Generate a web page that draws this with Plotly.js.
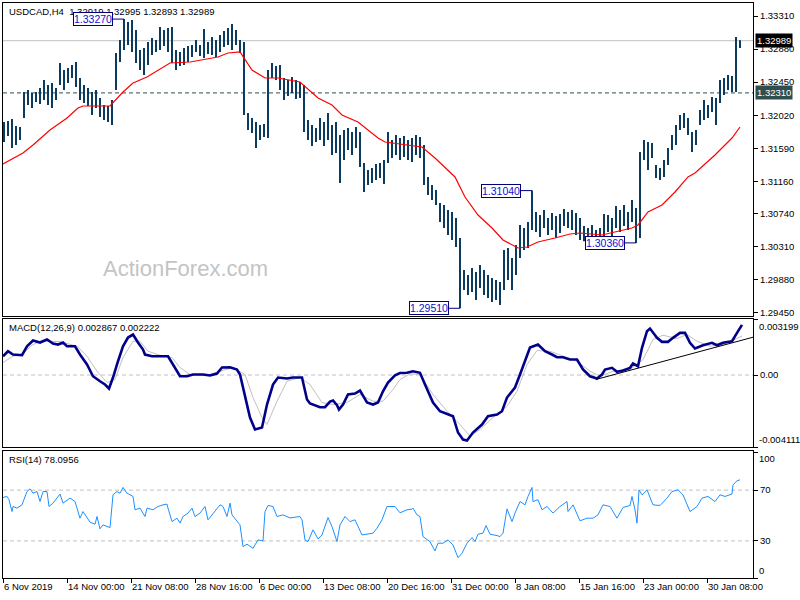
<!DOCTYPE html>
<html><head><meta charset="utf-8">
<script src="https://cdn.plot.ly/plotly-3.0.1.min.js"></script>
<style>html,body{margin:0;padding:0;background:#fff;}#chart{width:800px;height:600px;}</style>
</head><body><div id="chart"></div>
<script>
// ---------- data ----------
const symbol = "USDCAD,H4";
const lastOHLC = [1.32919, 1.32995, 1.32893, 1.32989];
const currentPrice = 1.32989;
const levelPrice = 1.32310;

// price bars (two H4 bars per entry), highs and lows
const highs = [
1.31932,1.31945,1.31971,1.31880,1.31867,1.32322,1.32348,1.32309,1.32322,1.32374,
1.32478,1.32413,1.32439,1.32374,1.32699,1.32608,1.32634,1.32673,1.32712,1.32504,
1.32413,1.32374,1.32322,1.32348,1.32244,1.32153,1.32140,1.32218,1.32829,1.32998,
1.33270,1.33232,1.33258,1.33128,1.32868,1.32894,1.32972,1.33024,1.32998,1.33167,
1.33128,1.33154,1.33167,1.32868,1.32842,1.32894,1.32920,1.32933,1.32998,1.32933,
1.33141,1.32972,1.33037,1.32998,1.33063,1.33115,1.33154,1.33206,1.33128,1.32998,
1.32972,1.32049,1.31984,1.31932,1.31893,1.31906,1.32608,1.32699,1.32660,1.32673,
1.32504,1.32478,1.32517,1.32478,1.32452,1.32413,1.31958,1.31893,1.31854,1.31984,
1.31932,1.32049,1.31893,1.31932,1.31763,1.31828,1.31854,1.31802,1.31867,1.31802,
1.31399,1.31308,1.31334,1.31386,1.31399,1.31438,1.31802,1.31698,1.31763,1.31724,
1.31750,1.31698,1.31724,1.31763,1.31737,1.31633,1.31217,1.31113,1.31048,1.30879,
1.30853,1.30788,1.30762,1.30684,1.30424,1.30008,1.29943,1.30034,1.29982,1.30073,
1.30008,1.29943,1.29904,1.29878,1.29852,1.30268,1.30294,1.30164,1.30333,1.30593,
1.30554,1.30632,1.31040,1.30762,1.30723,1.30788,1.30684,1.30749,1.30710,1.30736,
1.30801,1.30762,1.30788,1.30749,1.30684,1.30580,1.30554,1.30593,1.30528,1.30554,
1.30736,1.30723,1.30684,1.30840,1.30788,1.30853,1.30762,1.30918,1.30814,1.31542,
1.31698,1.31672,1.31659,1.31373,1.31334,1.31438,1.31594,1.31763,1.31893,1.32023,
1.32049,1.31984,1.31802,1.31828,1.32088,1.32218,1.32153,1.32257,1.32244,1.32478,
1.32504,1.32543,1.32530,1.33037,1.32995];
const lows = [
1.31672,1.31750,1.31594,1.31633,1.31698,1.31984,1.32153,1.32114,1.32192,1.32166,
1.32218,1.32153,1.32114,1.32218,1.32413,1.32348,1.32439,1.32504,1.32387,1.32218,
1.32179,1.32140,1.32023,1.32114,1.31997,1.31958,1.31932,1.31893,1.32348,1.32712,
1.32868,1.32933,1.32842,1.32699,1.32608,1.32543,1.32673,1.32803,1.32842,1.32868,
1.32920,1.32842,1.32699,1.32608,1.32660,1.32673,1.32712,1.32777,1.32842,1.32790,
1.32764,1.32816,1.32803,1.32777,1.32842,1.32907,1.32933,1.32868,1.32933,1.32829,
1.32023,1.31828,1.31789,1.31594,1.31698,1.31737,1.31724,1.32504,1.32478,1.32348,
1.32218,1.32270,1.32309,1.32231,1.32244,1.31802,1.31698,1.31620,1.31672,1.31698,
1.31620,1.31698,1.31503,1.31529,1.31139,1.31438,1.31568,1.31503,1.31594,1.31347,
1.31022,1.31113,1.31139,1.31178,1.31204,1.31126,1.31399,1.31464,1.31503,1.31438,
1.31477,1.31438,1.31412,1.31503,1.31464,1.31113,1.30983,1.30918,1.30853,1.30632,
1.30554,1.30463,1.30398,1.30307,1.29510,1.29748,1.29683,1.29722,1.29618,1.29774,
1.29683,1.29644,1.29592,1.29618,1.29553,1.29748,1.29878,1.29748,1.29943,1.30164,
1.30268,1.30294,1.30528,1.30502,1.30437,1.30554,1.30463,1.30528,1.30424,1.30489,
1.30580,1.30554,1.30528,1.30463,1.30398,1.30380,1.30398,1.30424,1.30375,1.30385,
1.30450,1.30502,1.30424,1.30554,1.30502,1.30580,1.30528,1.30632,1.30360,1.30424,
1.31438,1.31308,1.31464,1.31204,1.31178,1.31217,1.31373,1.31568,1.31633,1.31828,
1.31854,1.31763,1.31542,1.31633,1.31893,1.31958,1.31984,1.32062,1.31893,1.32179,
1.32283,1.32348,1.32322,1.32322,1.32893];

// moving average (red), x = H4 bar number
const maX = [0,10,15,23.5,32,37.5,40,53.5,60,65,72,80,83.5,93.5,107.5,112.5,118.5,124.5,131,137.5,148.5,157.5,164.5,169.5,177.5,187.5,191,209.5,216,226,231,237.5,244.5,250,257.5,262,267.5,276,283.5,288.5,299.5,314.5,317.5,322.5,329.5,336,342.5,346,356,364.5,368.5];
const maY = [1.31386,1.31529,1.31633,1.31828,1.31984,1.32114,1.32140,1.32140,1.32322,1.32439,1.32517,1.32647,1.32699,1.32712,1.32777,1.32829,1.32842,1.32608,1.32504,1.32504,1.32452,1.32244,1.32153,1.32023,1.31932,1.31724,1.31672,1.31607,1.31464,1.31217,1.30957,1.30723,1.30554,1.30398,1.30294,1.30307,1.30372,1.30424,1.30476,1.30489,1.30463,1.30554,1.30593,1.30762,1.30853,1.31022,1.31217,1.31269,1.31503,1.31724,1.31867];

// MACD(12,26,9)
const macdX = [0,2.5,5,9.5,12,15,18.5,22,25,27.5,30,32,36,38.5,42,45,48.5,51,53,55,57.5,60,62.5,65,67.5,70,71,74.5,77.5,82.5,85,88.5,92,95,100,103.5,107,109.5,113.5,117,118.5,121,123.5,126,129.5,132,135,137.5,142,145,149.5,152,153.5,158.5,161,163.5,165,167,168,170,172.5,176,178.5,182,185,187.5,190,192.5,196,198.5,202,205,208.5,211,215,218.5,223.5,225,227.5,230,232,235,239.5,242.5,247,249.5,252,253.5,256,258.5,261,263.5,267.5,271,274.5,277,280,283.5,287,290,293.5,297,299.5,301,304.5,307,310,313.5,315,317.5,319.5,322,323.5,327,329.5,332.5,335,338.5,341,343.5,346,350,354.5,357,360,364.5,367,369.5];
const macdY = [0.001073,0.001359,0.001171,0.001131,0.001644,0.001970,0.001856,0.002027,0.001799,0.001742,
0.001856,0.001644,0.001644,0.001171,0.000600,-0.000069,-0.000354,-0.000542,-0.000771,-0.000143,
0.000788,0.001644,0.002141,0.002313,0.001856,0.001456,0.001171,0.001073,0.001073,0.001073,
0.000600,-0.000069,-0.000069,0.000029,0.000029,-0.000029,0.000086,0.000428,0.000445,0.000314,
0.000029,-0.001285,-0.002427,-0.003112,-0.002998,-0.001684,-0.000542,-0.000143,-0.000200,-0.000143,
-0.000143,-0.001399,-0.001627,-0.001839,-0.001839,-0.001513,-0.001456,-0.001724,-0.001970,-0.001684,
-0.001113,-0.001056,-0.000885,-0.001570,-0.001684,-0.001570,-0.000925,-0.000428,-0.000011,0.000114,
0.000126,0.000217,0.000126,-0.000542,-0.001570,-0.002067,-0.002255,-0.002353,-0.003283,-0.003683,
-0.003740,-0.003283,-0.002826,-0.002353,-0.002255,-0.002067,-0.001285,-0.001056,-0.000714,0.000029,
0.000788,0.001570,0.001742,0.001359,0.001171,0.001016,0.001016,0.000885,0.000885,0.000314,
-0.000069,-0.000200,0.000029,0.000314,0.000411,0.000183,0.000257,0.000411,0.000657,0.000502,
0.001553,0.002501,0.002655,0.002124,0.001896,0.001896,0.002124,0.002410,0.002410,0.001839,
0.001513,0.001702,0.001839,0.001702,0.001839,0.001930,0.002410,0.002867];
const signalX = [0,5,10,14.5,18.5,28.5,37,42,47,52,56,60,65,68.5,72.5,78.5,84.5,88.5,93.5,102,108.5,115,121,125,129.5,132,137,142,148.5,153.5,159.5,165,172,178.5,185,190,195,198.5,203.5,208.5,215,222,228.5,233.5,238.5,245,252,257,262,267,273.5,280,287,293.5,298.5,305,313.5,320,325,330,337,342,347,353.5,360,369.5];
const signalY = [0.000714,0.001073,0.001228,0.001702,0.001930,0.001913,0.001644,0.001073,0.000217,-0.000428,
-0.000257,0.000999,0.001930,0.001930,0.001359,0.001131,0.000999,0.000428,0.000029,-0.000011,
0.000217,0.000428,0.000029,-0.001285,-0.002427,-0.002826,-0.001496,-0.000354,-0.000143,-0.000542,
-0.001570,-0.001684,-0.001570,-0.001113,-0.001496,-0.001496,-0.000828,-0.000257,0.000069,0.000029,
-0.001113,-0.002067,-0.002826,-0.003495,-0.003112,-0.002427,-0.001782,-0.000925,0.000600,0.001399,
0.001359,0.001073,0.000788,0.000217,-0.000069,0.000217,0.000314,0.000885,0.002027,0.002273,
0.002084,0.002313,0.001930,0.001644,0.001742,0.002222];
const macdRange = [-0.004111, 0.003199];
const trendX = [296.4, 375];
const trendY = [-0.000257, 0.00216];

// RSI(14)
const rsiX = [0,2,3,4.5,5,7,9.5,11,12,13.5,15,17,18.5,20,22,23,25,28.5,30,33.5,36,38.5,40,43.5,46,47,48.5,50,52,53.5,55,57,58.5,60,62,63.5,65,66,68.5,71,72,75,77.5,80,82,82.5,84.5,87,88.5,90,92.5,94.5,96,98.5,101,102.5,105,108.5,110,112,113.5,114.5,118.5,120,122,125,127.5,130,131,132.5,135,137,140,143.5,148.5,149.5,151,152.5,155,157.5,159.5,162.5,164.5,167,168.5,171,173.5,176,179.5,182,185,187,189.5,192,196,198.5,202,204.5,205,207,208.5,210,213.5,216,217.5,220,222.5,225,227.5,229.5,232,234.5,236,237.5,240,241.5,243.5,247,248.5,250,252,254.5,256,258.5,261,262.5,264.5,265,267.5,269.5,272,275,278.5,282,282.5,285,287,288.5,292,295,297.5,300,303.5,307,310,313.5,314.5,316,317,318,319.5,322,325,328.5,332,334.5,337.5,340,343.5,347,349.5,352.5,356,358.5,361,364.5,365,367,368.5];
const rsiY = [64.2,65.0,62.4,53.1,57.1,55.8,58.4,65.0,68.9,71.0,67.6,68.9,61.0,68.9,68.9,57.1,59.7,66.9,59.7,63.7,61.0,47.9,53.1,44.8,43.2,49.2,39.5,42.6,41.3,40.5,66.3,68.9,67.6,72.1,67.6,66.3,65.0,54.5,55.8,49.2,55.8,54.5,57.1,58.4,59.0,55.8,45.2,47.9,44.0,49.2,51.9,55.8,49.2,51.9,57.1,46.6,51.9,58.4,57.1,49.2,59.7,50.5,42.6,25.5,27.4,24.2,30.8,30.0,53.1,57.9,57.1,49.2,50.5,48.1,49.2,46.6,30.8,29.4,38.7,31.6,34.7,48.4,41.3,29.4,42.6,49.2,45.2,46.6,34.7,35.3,36.1,40.0,46.6,57.1,57.1,52.1,54.5,55.0,55.8,50.5,49.2,33.4,29.4,22.1,28.2,28.2,30.8,26.8,16.8,20.3,28.2,32.6,29.4,35.3,36.1,42.1,35.3,34.2,33.4,36.1,55.2,45.2,51.9,61.0,58.4,65.0,72.1,61.0,62.4,54.5,57.1,51.9,57.1,61.0,53.1,58.4,51.9,45.8,47.9,47.9,50.5,58.4,57.1,47.9,56.3,57.9,65.0,54.5,44.0,70.2,66.3,70.2,58.4,57.9,63.7,68.9,70.2,66.3,53.1,57.1,63.7,65.0,61.0,66.3,65.0,66.9,74.2,77.3,78.0956];
const rsiLevels = [70, 30];

// axis ticks
const tickIdx = [0,32,64,96,128,160,192,224,256,288,320,352];
const tickLabels = ["6 Nov 2019","14 Nov 00:00","21 Nov 08:00","28 Nov 16:00","6 Dec 00:00","13 Dec 08:00","20 Dec 16:00","31 Dec 00:00","8 Jan 08:00","15 Jan 16:00","23 Jan 00:00","30 Jan 08:00"];
const priceTicks = [1.33310,1.32880,1.32450,1.32020,1.31590,1.31160,1.30740,1.30310,1.29880,1.29450];

// swing-point labels (entry numbers in highs/lows)
const swingEntries = [30, 132, 114, 158];
const swingKinds = ["high", "high", "low", "low"];

// ---------- drawing ----------
const FONT = "Liberation Sans, Arial, sans-serif";
const barX = highs.map((_, k) => 2 * k + 0.5);
const segX = [], segY = [];
for (let k = 0; k < highs.length; k++) {
  segX.push(barX[k], barX[k], null);
  segY.push(lows[k], highs[k], null);
}

const traces = [
  {type:'scatter', mode:'lines', x:segX, y:segY, xaxis:'x', yaxis:'y',
   line:{color:'#0b3b5e', width:2}, connectgaps:false, hoverinfo:'skip'},
  {type:'scatter', mode:'lines', x:maX, y:maY, xaxis:'x', yaxis:'y',
   line:{color:'#ff0000', width:1.2}},
  {type:'scatter', mode:'lines', x:signalX, y:signalY, xaxis:'x2', yaxis:'y2',
   line:{color:'#c0c0c0', width:1}},
  {type:'scatter', mode:'lines', x:macdX, y:macdY, xaxis:'x2', yaxis:'y2',
   line:{color:'#00008b', width:2.6}},
  {type:'scatter', mode:'lines', x:trendX, y:trendY, xaxis:'x2', yaxis:'y2',
   line:{color:'#000000', width:1}},
  {type:'scatter', mode:'lines', x:rsiX, y:rsiY, xaxis:'x3', yaxis:'y3',
   line:{color:'#1e90ff', width:1}}
];

const xRange = [0, 375];
const baseX = {range:xRange, showgrid:false, zeroline:false, showline:true, mirror:true,
  linecolor:'#000', linewidth:1, fixedrange:true};
const baseY = {side:'right', showgrid:false, zeroline:false, showline:true, mirror:true,
  linecolor:'#000', linewidth:1, ticks:'outside', ticklen:4, tickcolor:'#000',
  tickfont:{family:FONT, size:9.5, color:'#000'}};

const annotations = [];
// panel titles
annotations.push({xref:'x domain', yref:'y domain', x:0, y:1, xanchor:'left', yanchor:'top', xshift:4, yshift:-1,
  text: symbol + '\u00a0\u00a0' + lastOHLC.map(v => v.toFixed(5)).join(' '), showarrow:false,
  font:{family:FONT, size:9.5, color:'#000'}});
annotations.push({xref:'x2 domain', yref:'y2 domain', x:0, y:1, xanchor:'left', yanchor:'top', xshift:4, yshift:-1,
  text: 'MACD(12,26,9) ' + macdY[macdY.length-1].toFixed(6) + ' ' + signalY[signalY.length-1].toFixed(6), showarrow:false,
  font:{family:FONT, size:9.5, color:'#000'}});
annotations.push({xref:'x3 domain', yref:'y3 domain', x:0, y:1, xanchor:'left', yanchor:'top', xshift:4, yshift:-1,
  text: 'RSI(14) ' + rsiY[rsiY.length-1].toFixed(4), showarrow:false,
  font:{family:FONT, size:9.5, color:'#000'}});
// watermark
annotations.push({xref:'x domain', yref:'y domain', x:0.2427, y:0.153, xanchor:'center', yanchor:'middle',
  text:'ActionForex.com', showarrow:false,
  font:{family:FONT, size:22, color:'#c4c4c4'}});
// right side price boxes
annotations.push({xref:'paper', yref:'y', x:1, y:currentPrice, xanchor:'left', yanchor:'middle', xshift:2,
  text: currentPrice.toFixed(5), showarrow:false, bgcolor:'#000', borderpad:1,
  font:{family:FONT, size:9.5, color:'#fff'}});
annotations.push({xref:'paper', yref:'y', x:1, y:levelPrice, xanchor:'left', yanchor:'middle', xshift:2,
  text: levelPrice.toFixed(5), showarrow:false, bgcolor:'#2f4f4f', borderpad:1,
  font:{family:FONT, size:9.5, color:'#fff'}});
// clamped extreme labels
const edgeLabel = (yref, y, anchor, text) => ({xref:'paper', yref:yref, x:1, y:y, xanchor:'left', yanchor:anchor,
  xshift:4, text:text, showarrow:false, font:{family:FONT, size:9.5, color:'#000'}});
annotations.push(edgeLabel('y2 domain', 1, 'top', macdRange[1].toFixed(6)));
annotations.push(edgeLabel('y2 domain', 0, 'bottom', macdRange[0].toFixed(6)));
annotations.push(edgeLabel('y3 domain', 1, 'top', '100'));
annotations.push(edgeLabel('y3 domain', 0, 'bottom', '0'));
// swing labels
swingEntries.forEach((k, j) => {
  const v = swingKinds[j] === 'high' ? highs[k] : lows[k];
  annotations.push({xref:'x', yref:'y', x:barX[k], y:v, ax:-31, ay:0, axref:'pixel', ayref:'pixel',
    showarrow:true, arrowhead:0, arrowwidth:1, arrowcolor:'#000080', standoff:0,
    text:v.toFixed(5), bgcolor:'#fff', bordercolor:'#000080', borderwidth:1, borderpad:0,
    font:{family:FONT, size:10.5, color:'#1010d0'}});
});

const shapes = [
  {type:'line', xref:'x domain', yref:'y', x0:0, x1:1, y0:currentPrice, y1:currentPrice,
   line:{color:'#c0c0c0', width:1}, layer:'below'},
  {type:'line', xref:'x domain', yref:'y', x0:0, x1:1, y0:levelPrice, y1:levelPrice,
   line:{color:'#2f4f4f', width:1, dash:'4px,3px'}, layer:'below'},
  {type:'line', xref:'x2 domain', yref:'y2', x0:0, x1:1, y0:0, y1:0,
   line:{color:'#c0c0c0', width:1, dash:'4px,3px'}, layer:'below'}
];
rsiLevels.forEach(l => shapes.push({type:'line', xref:'x3 domain', yref:'y3', x0:0, x1:1, y0:l, y1:l,
   line:{color:'#c0c0c0', width:1, dash:'4px,3px'}, layer:'below'}));

const layout = {
  width:800, height:600,
  margin:{l:3, r:47, t:3, b:22},
  paper_bgcolor:'#fff', plot_bgcolor:'#fff',
  showlegend:false,
  font:{family:FONT, size:9.5, color:'#000'},
  xaxis: Object.assign({}, baseX, {anchor:'y', showticklabels:false, ticks:''}),
  xaxis2: Object.assign({}, baseX, {anchor:'y2', showticklabels:false, ticks:''}),
  xaxis3: Object.assign({}, baseX, {anchor:'y3', tickmode:'array', tickvals:tickIdx, ticktext:tickLabels,
    ticks:'outside', ticklen:4, tickcolor:'#000', tickangle:0, ticklabelposition:'outside right', ticklabeloverflow:'allow',
    tickfont:{family:FONT, size:9.5, color:'#000'}}),
  yaxis: Object.assign({}, baseY, {anchor:'x', domain:[0.4557, 1], range:[1.2941, 1.33479],
    tickmode:'array', tickvals:priceTicks, ticktext:priceTicks.map(v => v.toFixed(5))}),
  yaxis2: Object.assign({}, baseY, {anchor:'x2', domain:[0.2278, 0.4504], range:macdRange,
    tickmode:'array', tickvals:[macdRange[1], 0, macdRange[0]], ticktext:['', '0.00', '']}),
  yaxis3: Object.assign({}, baseY, {anchor:'x3', domain:[0, 0.2209], range:[0.8, 100.8],
    tickmode:'array', tickvals:[100, 70, 30, 0.8], ticktext:['', '70', '30', '']}),
  annotations: annotations,
  shapes: shapes
};

Plotly.newPlot('chart', traces, layout, {staticPlot:true, displayModeBar:false});
</script>
</body></html>
